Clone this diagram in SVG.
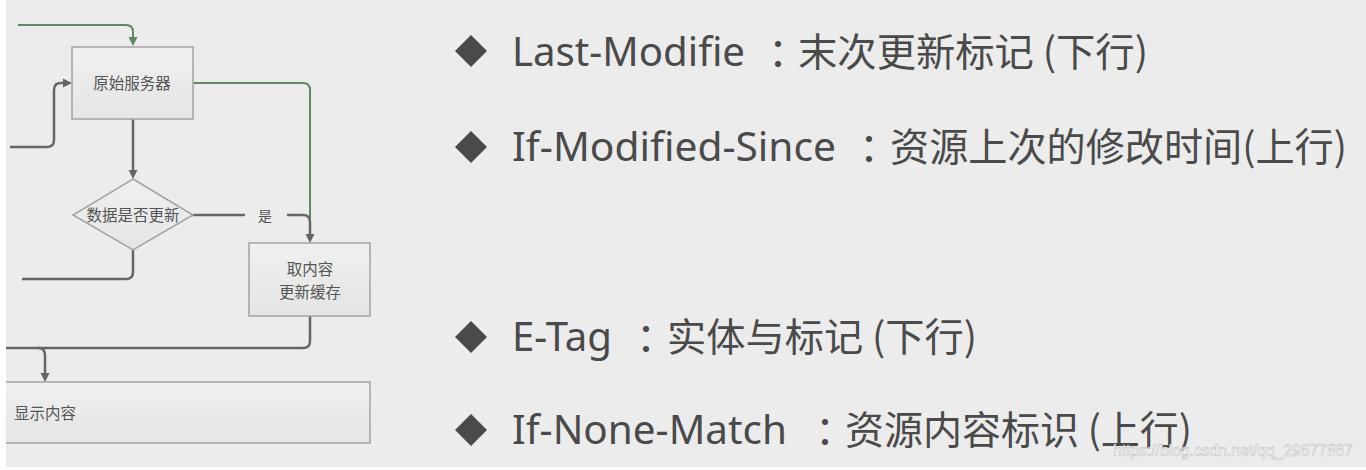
<svg xmlns="http://www.w3.org/2000/svg" width="1366" height="470" viewBox="0 0 1366 470">
<style>
.box{stroke:#a3a3a3;stroke-width:1.5;fill:url(#bg)}
.bt{font-family:"Noto Sans CJK SC","Noto Sans",sans-serif;font-size:15.5px;fill:#555;text-anchor:middle}
.g{fill:none;stroke:#666;stroke-width:2.5}
.gr{fill:none;stroke:#5d8a60;stroke-width:2}
.lat{font-family:"Noto Sans","Noto Sans CJK SC",sans-serif;font-size:40px;fill:#4a4a4a}
.cjk{font-family:"Noto Sans CJK SC",sans-serif;font-size:39px;fill:#4a4a4a}
.col{font-family:"Noto Sans CJK JP","Noto Sans CJK TC",sans-serif;font-size:40px;fill:#4a4a4a;text-anchor:middle}
.bul{fill:#4a4a4a}
</style>
<defs>
<linearGradient id="bg" x1="0" y1="0" x2="0" y2="1">
<stop offset="0" stop-color="#f0f0f0"/>
<stop offset="1" stop-color="#e5e5e5"/>
</linearGradient>
<marker id="ag" viewBox="0 0 10 10" refX="0" refY="5" markerWidth="9" markerHeight="16" markerUnits="userSpaceOnUse" orient="auto">
<path d="M0,0 L10,5 L0,10 z" fill="#666"/>
</marker>
<marker id="agr" viewBox="0 0 10 10" refX="0" refY="5" markerWidth="9" markerHeight="16" markerUnits="userSpaceOnUse" orient="auto">
<path d="M0,0 L10,5 L0,10 z" fill="#5d8a60"/>
</marker>
</defs>
<rect x="0" y="0" width="1366" height="470" fill="#ececec"/>

<g id="connectors">
<path class="gr" d="M18,25 H126 Q133,25 133,32 V37" marker-end="url(#agr)"/>
<path class="gr" d="M193,83 H303 Q310,83 310,90 V230"/>
<path class="g" d="M10,147 H47 Q54,147 54,140 V90 Q54,83 61,83 H63" marker-end="url(#ag)"/>
<path class="g" d="M133,119 V170" marker-end="url(#ag)"/>
<path class="g" d="M193,215 H245"/>
<path class="g" d="M287,215 H303 Q310,215 310,222 V234" marker-end="url(#ag)"/>
<text x="265" y="221" class="bt" style="font-size:14px">是</text>
<path class="g" d="M133,250 V272 Q133,279 126,279 H22"/>
<path class="g" d="M310,316 V341 Q310,348 303,348 H6"/>
<path class="g" d="M38,348 Q45,348 45,355 V373" marker-end="url(#ag)"/>
</g>

<g id="origin-server">
<rect class="box" x="72" y="47" width="121" height="72"/>
<text class="bt" x="132" y="89">原始服务器</text>
</g>
<g id="decision">
<polygon class="box" points="133,179 193,215 133,250 73,215"/>
<text class="bt" x="133" y="221">数据是否更新</text>
</g>
<g id="fetch-update">
<rect class="box" x="249" y="243" width="121" height="73"/>
<text class="bt" x="310" y="275">取内容</text>
<text class="bt" x="310" y="298">更新缓存</text>
</g>
<g id="display">
<rect class="box" x="-4" y="382" width="374" height="61"/>
<text class="bt" x="14" y="419" style="text-anchor:start">显示内容</text>
</g>

<rect x="0" y="0" width="6" height="470" fill="#ffffff"/>
<rect x="0" y="467" width="1366" height="3" fill="#ffffff"/>

<g id="item1">
<polygon class="bul" points="471,35 487,51 471,67 455,51"/>
<text class="lat" x="512" y="66" textLength="233" lengthAdjust="spacingAndGlyphs">Last-Modifie</text>
<text class="col" x="778" y="69">：</text>
<text class="cjk" x="798" y="66" textLength="350" lengthAdjust="spacingAndGlyphs">末次更新标记 (下行)</text>
</g>
<g id="item2">
<polygon class="bul" points="471,131 487,147 471,163 455,147"/>
<text class="lat" x="512" y="161" textLength="324" lengthAdjust="spacingAndGlyphs">If-Modified-Since</text>
<text class="col" x="869" y="164">：</text>
<text class="cjk" x="890" y="161" textLength="457" lengthAdjust="spacingAndGlyphs">资源上次的修改时间(上行)</text>
</g>
<g id="item3">
<polygon class="bul" points="471,321 487,337 471,353 455,337"/>
<text class="lat" x="512" y="351" textLength="100" lengthAdjust="spacingAndGlyphs">E-Tag</text>
<text class="col" x="646" y="354">：</text>
<text class="cjk" x="667" y="351" textLength="310" lengthAdjust="spacingAndGlyphs">实体与标记 (下行)</text>
</g>
<g id="item4">
<polygon class="bul" points="471,414 487,430 471,446 455,430"/>
<text class="lat" x="512" y="444" textLength="275" lengthAdjust="spacingAndGlyphs">If-None-Match</text>
<text class="col" x="825" y="447">：</text>
<text class="cjk" x="845" y="444" textLength="347" lengthAdjust="spacingAndGlyphs">资源内容标识 (上行)</text>
</g>
<text x="1113" y="456" textLength="240" lengthAdjust="spacingAndGlyphs" style="font-family:'Liberation Sans',Arial,sans-serif;font-size:16px;fill:#ffffff;stroke:#b8b8b8;stroke-width:0.5">https://blog.csdn.net/qq_29677867</text>
</svg>
